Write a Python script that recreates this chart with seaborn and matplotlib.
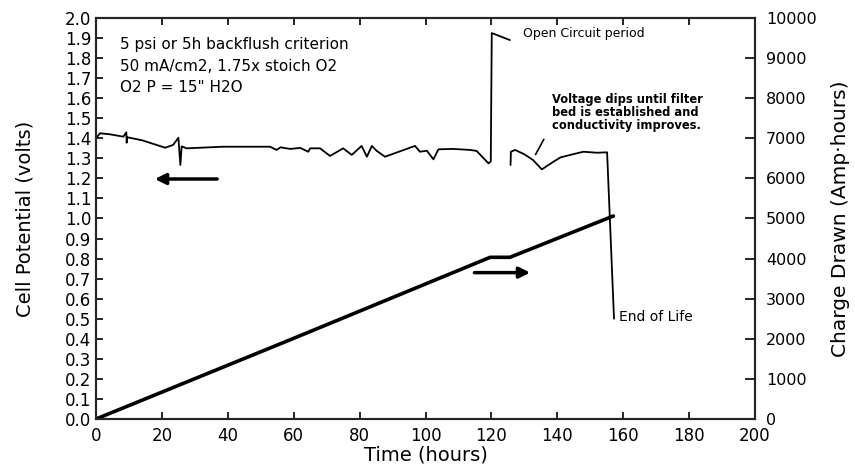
import numpy as np
import pandas as pd
import seaborn as sns
import matplotlib.pyplot as plt

# cell potential trace (hours, volts) - two recorded segments around open circuit
v_hours_a = [0, 1.2, 4.2, 8.3, 9.2, 9.3, 9.5, 14, 21, 23.4, 25.0, 25.6, 26.0, 27.5, 38.6, 52.8,
             54.8, 56, 58.9, 62, 64.4, 65, 68, 71, 75, 77.6, 80.6, 82.2, 83.7, 85.2, 87.7, 96.8,
             98.3, 100.4, 102.4, 103.9, 108.4, 113.5, 115.5, 119.1, 119.8, 120.1, 125.6]
v_volts_a = [1.40, 1.425, 1.42, 1.408, 1.43, 1.378, 1.405, 1.39, 1.353, 1.367, 1.403, 1.267, 1.36,
             1.35, 1.358, 1.358, 1.342, 1.355, 1.347, 1.352, 1.333, 1.35, 1.35, 1.312, 1.35, 1.317,
             1.362, 1.308, 1.362, 1.337, 1.308, 1.362, 1.333, 1.338, 1.295, 1.345, 1.347, 1.342,
             1.337, 1.275, 1.285, 1.925, 1.89]
v_hours_b = [125.8, 125.9, 127.2, 130, 132.6, 135.3, 138.8, 141, 143.9, 147.9, 152, 155.1, 157.2]
v_volts_b = [1.267, 1.333, 1.342, 1.32, 1.292, 1.245, 1.283, 1.305, 1.317, 1.333, 1.328, 1.330, 0.50]

# charge drawn (hours, Amp-hours)
q_hours = [0, 60, 119.6, 125.6, 157]
q_charge = [0, 2012, 4032, 4032, 5062]

note_lines = ["5 psi or 5h backflush criterion", "50 mA/cm2, 1.75x stoich O2", 'O2 P = 15" H2O']

volt_df = pd.DataFrame({
    "hours": v_hours_a + v_hours_b,
    "volts": v_volts_a + v_volts_b,
    "seg": ["a"] * len(v_hours_a) + ["b"] * len(v_hours_b),
})
charge_df = pd.DataFrame({"hours": q_hours, "charge": q_charge})

sns.set_style("ticks")
plt.rcParams["font.family"] = ["DejaVu Sans"]
plt.rcParams.update({"text.color": "black", "axes.labelcolor": "black",
                     "xtick.color": "black", "ytick.color": "black"})

fig = plt.figure(figsize=(8.55, 4.71), dpi=100)
ax = fig.add_axes([0.1123, 0.1104, 0.7708, 0.8514])
ax2 = ax.twinx()

sns.lineplot(data=volt_df, x="hours", y="volts", units="seg", estimator=None,
             color="black", lw=1.3, ax=ax)
sns.lineplot(data=charge_df, x="hours", y="charge", color="black", lw=2.6, ax=ax2)

ax.set_xlim(0, 200)
ax.set_ylim(0, 2.0)
ax2.set_ylim(0, 10000)
ax.set_xticks(np.arange(0, 201, 20))
ax.set_yticks(np.round(np.arange(0, 2.01, 0.1), 1))
ax.set_yticklabels([f"{v:.1f}" for v in np.arange(0, 2.01, 0.1)])
ax2.set_yticks(np.arange(0, 10001, 1000))

ax.tick_params(axis="both", direction="in", labelsize=12, length=5, width=1.2, top=True)
ax.tick_params(axis="x", pad=6)
ax2.tick_params(axis="y", direction="in", labelsize=11.5, length=7, width=1.2, pad=8)
for a in (ax, ax2):
    for s in a.spines.values():
        s.set_visible(True)
        s.set_linewidth(1.5)

ax.set_xlabel("Time (hours)", fontsize=14, labelpad=0)
ax.set_ylabel("Cell Potential (volts)", fontsize=14, labelpad=22)
ax2.set_ylabel("Charge Drawn (Amp·hours)", fontsize=14.5, labelpad=10)

for txt, y in zip(note_lines, [1.87, 1.76, 1.655]):
    ax.text(7.3, y, txt, fontsize=11, va="center", ha="left")

ax.text(129.6, 1.925, "Open Circuit period", fontsize=9, va="center", ha="left")
ax.text(138.5, 1.531, "Voltage dips until filter\nbed is established and\nconductivity improves.",
        fontsize=8.3, fontweight="bold", va="center", ha="left", linespacing=1.0)
ax.text(158.6, 0.51, "End of Life", fontsize=10, va="center", ha="left")
ax.annotate("", xy=(133, 1.307), xytext=(136.3, 1.407),
            arrowprops=dict(arrowstyle="-", lw=1.2, color="black"))

# direction arrows
ax.annotate("", xy=(17, 1.197), xytext=(37.6, 1.197),
            arrowprops=dict(arrowstyle="-|>", lw=2.5, color="black", mutation_scale=16))
ax.annotate("", xy=(132.6, 0.73), xytext=(114, 0.73),
            arrowprops=dict(arrowstyle="-|>", lw=2.5, color="black", mutation_scale=16))

fig.savefig("out.png", dpi=100)
